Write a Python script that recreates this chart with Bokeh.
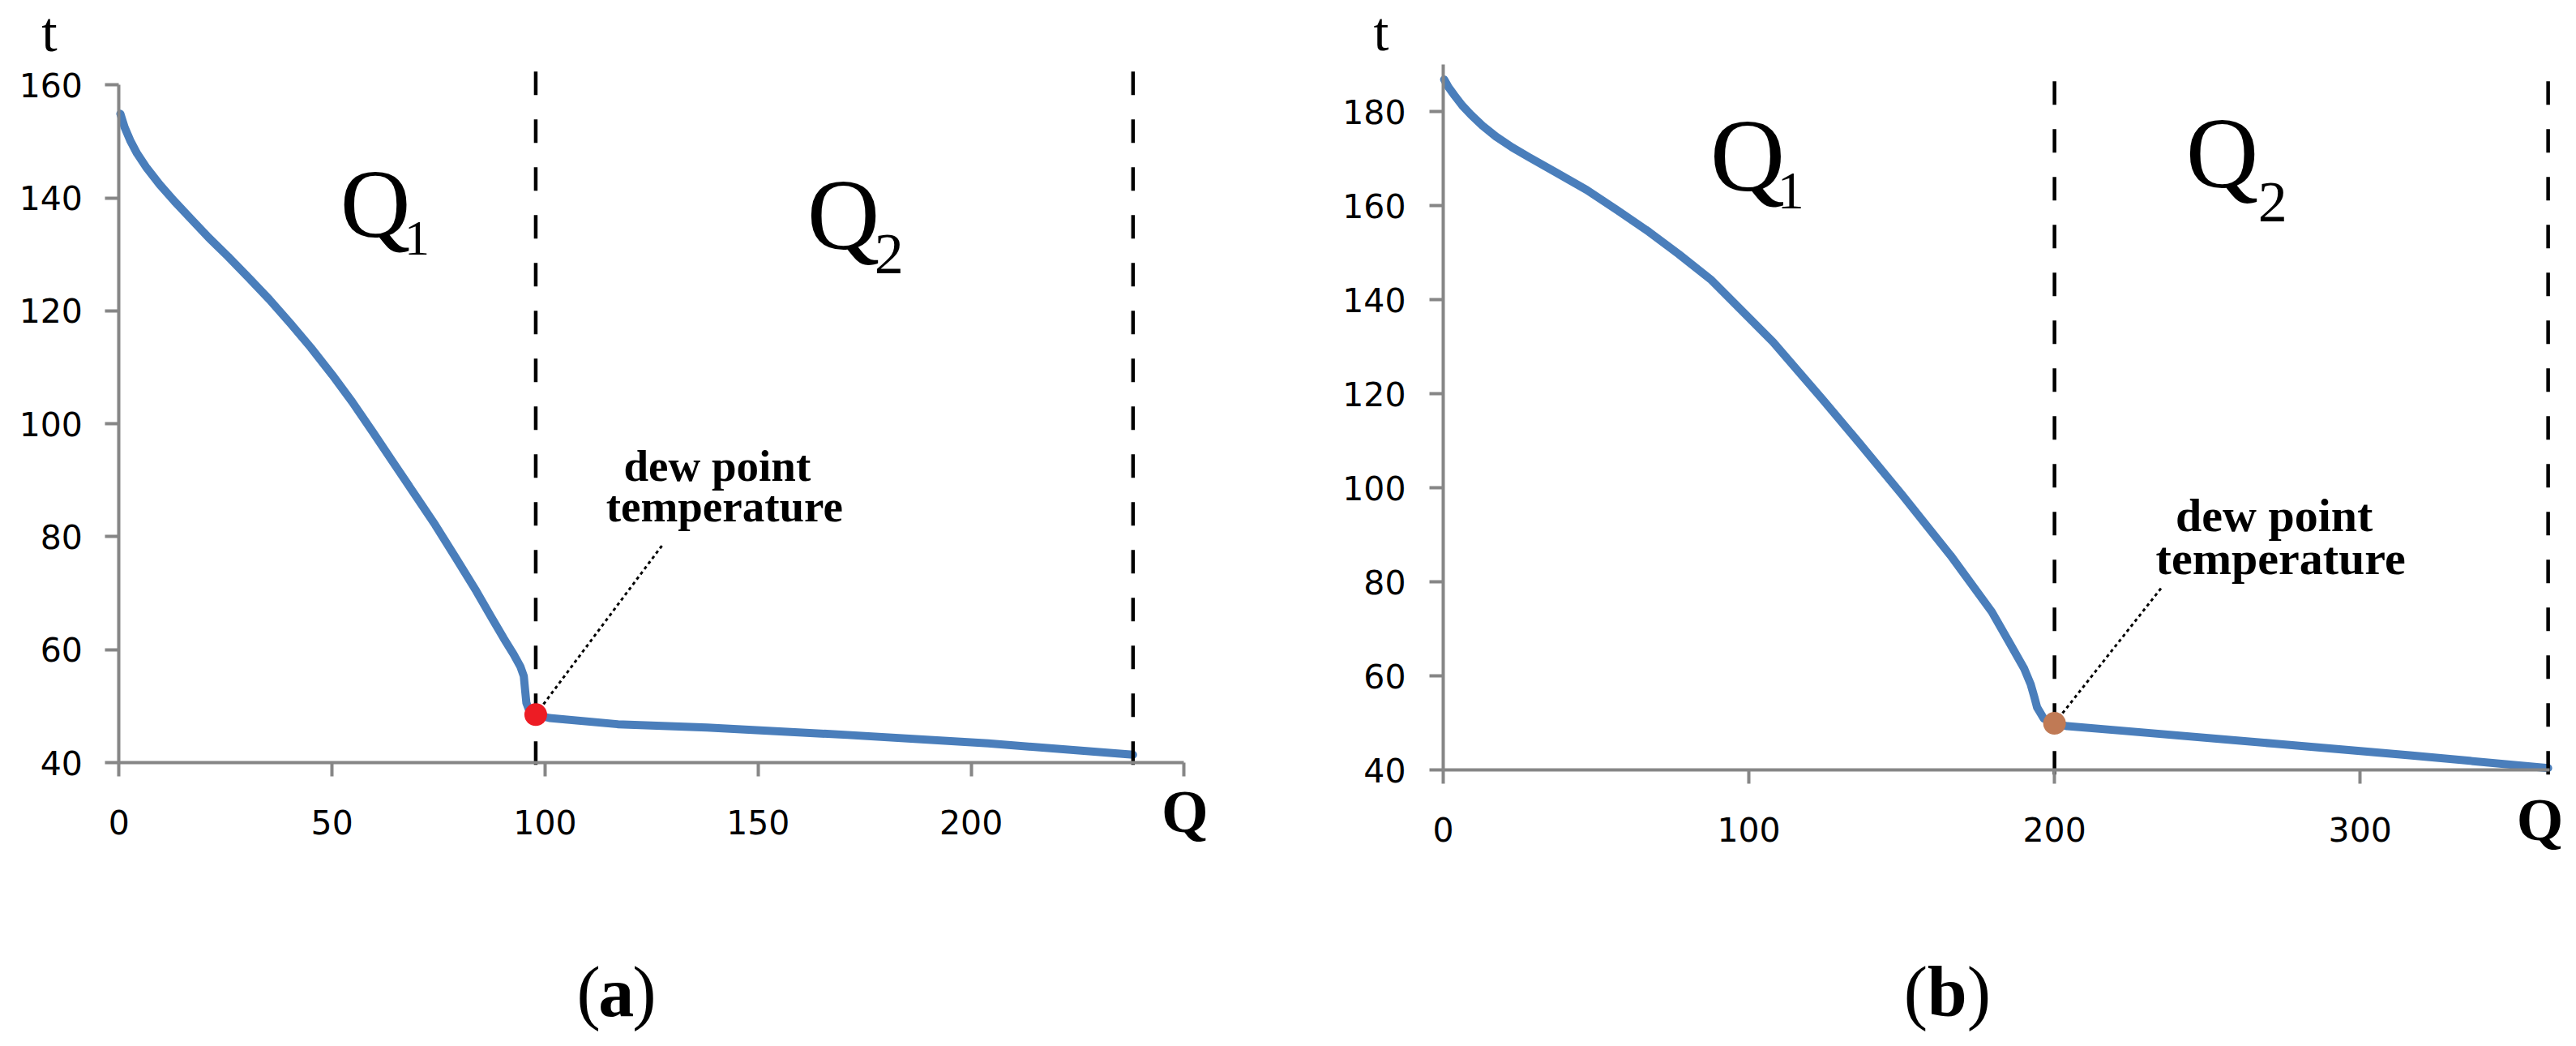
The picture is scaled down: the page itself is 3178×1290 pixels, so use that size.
from bokeh.plotting import figure
from bokeh.layouts import row
from bokeh.models import Range1d, Label, FixedTicker
from bokeh.embed import file_html
from bokeh.resources import INLINE

# ---------------- data: panel (a) ----------------
a_q1_Q = [0.3, 1.3, 2.6, 4.2, 6.5, 9.5, 13.0, 17.0, 21.0, 25.6, 30.5, 35.3, 40.2, 45.0, 50.0,
          54.7, 59.6, 64.4, 69.3, 74.2, 79.0, 83.9, 87.5, 90.3, 92.6, 94.2, 95.0, 95.3, 95.6, 96.3, 97.8]
a_q1_t = [154.9, 152.5, 150.2, 147.9, 145.3, 142.4, 139.4, 136.2, 133.0, 129.6, 125.8, 122.0, 117.8, 113.5, 108.7,
          103.9, 98.5, 93.1, 87.6, 82.1, 76.3, 70.3, 65.6, 62.0, 59.2, 57.0, 55.3, 52.9, 50.6, 49.2, 48.5]
a_q2_Q = [97.8, 101.0, 117.0, 138.0, 171.0, 204.0, 238.0]
a_q2_t = [48.5, 47.9, 46.8, 46.2, 44.9, 43.4, 41.4]
a_dew = (97.8, 48.5)
a_bounds = [97.8, 238.0]
a_xticks = [0, 50, 100, 150, 200, 250]
a_yticks = [40, 60, 80, 100, 120, 140, 160]

# ---------------- data: panel (b) ----------------
b_q1_Q = [0.3, 1.8, 3.7, 6.2, 9.1, 12.8, 17.2, 22.5, 28.0, 37.0, 47.0, 57.0, 67.3, 77.0, 87.5,
          107.9, 124.1, 136.0, 150.0, 166.0, 179.5, 186.0, 190.1, 192.2, 193.4, 194.3, 196.5, 200.0]
b_q1_t = [186.8, 185.1, 183.4, 181.3, 179.3, 177.0, 174.7, 172.4, 170.3, 167.0, 163.3, 159.0, 154.4, 149.7, 144.3,
          131.0, 118.8, 109.6, 98.6, 85.6, 73.6, 66.2, 61.5, 58.2, 55.5, 53.3, 50.9, 49.9]
b_q2_Q = [200.0, 204.2, 222.8, 271.6, 316.2, 361.5]
b_q2_t = [49.9, 49.3, 48.3, 45.6, 43.1, 40.4]
b_dew = (200.0, 49.9)
b_bounds = [200.0, 361.5]
b_xticks = [0, 100, 200, 300]
b_yticks = [40, 60, 80, 100, 120, 140, 160, 180]

BLUE = "#4A7EBB"
AXIS = "#868686"
SERIF = "Liberation Serif"
BASELINE_FIX = 0.35   # em: lift applied to labels so their baseline lands where wanted


def add_label(p, x, y, text, size, bold=False, align="left", font=SERIF):
    p.add_layout(Label(x=x, y=y, text=text, text_font=font,
                       text_font_size=f"{size}px",
                       y_offset=BASELINE_FIX * size,
                       text_font_style="bold" if bold else "normal",
                       text_align=align, text_baseline="alphabetic",
                       text_color="black"))


def make_panel(width, height, q_len, t_lo, t_hi, origin_px, sx, sy,
               xticks, yticks, q1Q, q1t, q2Q, q2t, dew, dew_color, bounds,
               dash_lo, dash_top, lead_end, ystandoff, xstandoff, overrides):
    # origin_px: pixel position (from figure's top-left) of (Q=0, t=t_lo)
    ox, oy = origin_px
    xr = Range1d(-ox / sx, (width - ox) / sx)
    yr = Range1d(t_lo - (height - oy) / sy, t_lo + oy / sy)
    p = figure(width=width, height=height, x_range=xr, y_range=yr,
               output_backend="svg", toolbar_location=None, title=None,
               min_border_left=0, min_border_right=0,
               min_border_top=0, min_border_bottom=0)
    p.outline_line_color = None
    p.grid.visible = False
    p.background_fill_color = "white"
    p.border_fill_color = "white"
    for ax in (p.xaxis[0], p.yaxis[0]):
        ax.axis_line_color = AXIS
        ax.axis_line_width = 4
        ax.major_tick_line_color = AXIS
        ax.major_tick_line_width = 4
        ax.major_tick_out = 17
        ax.major_tick_in = 0
        ax.minor_tick_line_color = None
        ax.major_label_text_font = "DejaVu Sans"
        ax.major_label_text_font_size = "41px"
        ax.major_label_text_color = "black"
    p.xaxis.ticker = FixedTicker(ticks=xticks)
    p.yaxis.ticker = FixedTicker(ticks=yticks)
    p.xaxis.fixed_location = t_lo
    p.yaxis.fixed_location = 0
    p.xaxis.bounds = (0, q_len)
    p.yaxis.bounds = (t_lo, t_hi)
    p.yaxis.major_label_standoff = ystandoff
    p.xaxis.major_label_standoff = xstandoff
    p.xaxis.major_label_overrides = overrides

    p.line(q1Q, q1t, line_color=BLUE, line_width=10, line_join="round", line_cap="round")
    p.line(q2Q, q2t, line_color=BLUE, line_width=10, line_join="round", line_cap="round")
    p.segment(x0=bounds, y0=[dash_lo] * len(bounds), x1=bounds, y1=[dash_top] * len(bounds),
              line_color="black", line_width=4.5, line_dash="29 30")
    p.line([dew[0], lead_end[0]], [dew[1], lead_end[1]], line_color="black",
           line_width=3, line_dash="4 4")
    p.scatter([dew[0]], [dew[1]], size=28, fill_color=dew_color, line_color=None)
    return p


pa = make_panel(1590, 1290, 250, 40, 160, (146.4, 940), 1314 / 250, 6.964,
                a_xticks, a_yticks, a_q1_Q, a_q1_t, a_q2_Q, a_q2_t, a_dew, "#ED1C24",
                a_bounds, 39.6, 163.6, (127.5, 78.5), 28, 41, {250: ""})
add_label(pa, -18.2, 165.8, "t", 70)
add_label(pa, 51.9, 132.9, "Q", 120)
add_label(pa, 67.0, 129.7, "1", 62)
add_label(pa, 161.5, 130.75, "Q", 124)
add_label(pa, 177.3, 126.4, "2", 72)
add_label(pa, 140.4, 89.8, "dew point", 55, bold=True, align="center")
add_label(pa, 142.1, 82.6, "temperature", 55, bold=True, align="center")
add_label(pa, 244.7, 27.65, "Q", 74, bold=True)
add_label(pa, 107.4, -5.1, "(", 88)
add_label(pa, 112.5, -5.1, "a", 88, bold=True)
add_label(pa, 120.5, -5.1, ")", 88)

pb = make_panel(1588, 1290, 362, 40, 190, (190, 949), 1365 / 362, 5.8,
                b_xticks, b_yticks, b_q1_Q, b_q1_t, b_q2_Q, b_q2_t, b_dew, "#C07A55",
                b_bounds, 39.0, 187.5, (235.2, 78.9), 29, 41, {})
add_label(pb, -22.8, 192.9, "t", 68)
add_label(pb, 87.3, 162.9, "Q", 128)
add_label(pb, 109.3, 159.2, "1", 66)
add_label(pb, 243.0, 163.6, "Q", 124)
add_label(pb, 266.6, 156.3, "2", 72)
add_label(pb, 271.9, 90.7, "dew point", 58, bold=True, align="center")
add_label(pb, 274.0, 81.5, "temperature", 58, bold=True, align="center")
add_label(pb, 351.2, 25.0, "Q", 74, bold=True)
add_label(pb, 150.7, -12.6, "(", 88)
add_label(pb, 158.4, -12.6, "b", 88, bold=True)
add_label(pb, 171.4, -12.6, ")", 88)

layout = row(pa, pb)
open("out.html", "w").write(file_html(layout, INLINE))
